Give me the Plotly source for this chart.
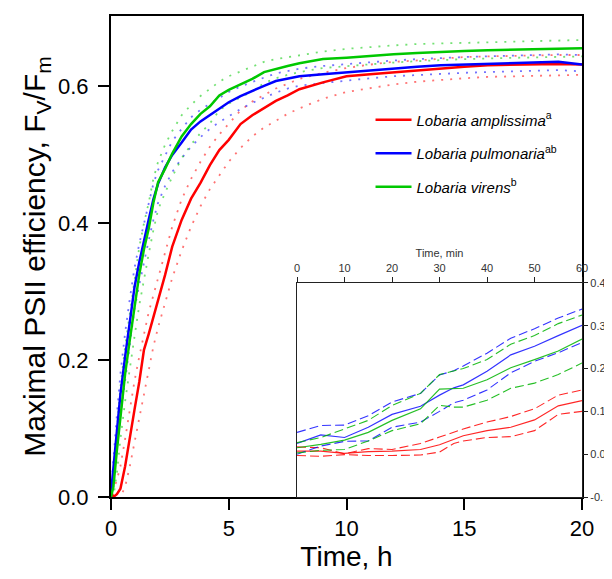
import plotly.graph_objects as go

# ---------------- main panel data (time in hours) ----------------
t_h = [0, 0.1, 0.25, 0.4, 0.6, 0.8, 1.0, 1.2, 1.4, 1.6, 1.8, 2.0, 2.3, 2.6, 3.0, 3.4, 3.8,
       4.2, 4.6, 5.0, 5.5, 6.0, 6.5, 7.0, 7.5, 8.0, 9, 10, 11, 12, 13, 14, 15, 16, 17, 18, 19, 20]

amp_mean = [0.008, 0.0, 0.004, 0.012, 0.045, 0.09, 0.128, 0.168, 0.215, 0.238, 0.262, 0.287, 0.325,
            0.366, 0.405, 0.436, 0.459, 0.485, 0.507, 0.522, 0.545, 0.558, 0.568, 0.579, 0.587,
            0.596, 0.606, 0.615, 0.618, 0.621, 0.624, 0.627, 0.629, 0.631, 0.632, 0.632, 0.633, 0.632]
amp_hi = [0.01, 0.01, 0.025, 0.045, 0.085, 0.13, 0.17, 0.205, 0.24, 0.27, 0.295, 0.32, 0.36, 0.395,
          0.435, 0.465, 0.49, 0.512, 0.53, 0.545, 0.565, 0.578, 0.588, 0.597, 0.604, 0.611, 0.62,
          0.627, 0.632, 0.636, 0.638, 0.641, 0.643, 0.644, 0.645, 0.646, 0.646, 0.646]
amp_lo = [0.0, -0.005, -0.005, 0.0, 0.015, 0.045, 0.08, 0.115, 0.155, 0.19, 0.22, 0.248, 0.285, 0.32,
          0.36, 0.395, 0.425, 0.45, 0.47, 0.49, 0.51, 0.527, 0.54, 0.55, 0.56, 0.568, 0.582, 0.592,
          0.598, 0.603, 0.607, 0.61, 0.612, 0.614, 0.615, 0.616, 0.617, 0.617]

pul_mean = [0.005, 0.04, 0.093, 0.15, 0.205, 0.26, 0.307, 0.343, 0.372, 0.405, 0.435, 0.458, 0.482,
            0.50, 0.518, 0.537, 0.549, 0.558, 0.568, 0.577, 0.586, 0.594, 0.601, 0.608, 0.612, 0.615,
            0.618, 0.621, 0.624, 0.626, 0.629, 0.631, 0.632, 0.632, 0.633, 0.634, 0.636, 0.632]
pul_hi = [0.01, 0.06, 0.12, 0.18, 0.24, 0.29, 0.335, 0.37, 0.40, 0.43, 0.458, 0.478, 0.50, 0.52,
          0.538, 0.555, 0.566, 0.575, 0.584, 0.592, 0.60, 0.607, 0.613, 0.619, 0.623, 0.626, 0.63,
          0.633, 0.636, 0.638, 0.64, 0.642, 0.643, 0.644, 0.645, 0.646, 0.647, 0.646]
pul_lo = [0.0, 0.015, 0.065, 0.12, 0.17, 0.225, 0.275, 0.31, 0.345, 0.375, 0.405, 0.43, 0.455, 0.475,
          0.495, 0.512, 0.526, 0.538, 0.548, 0.557, 0.567, 0.576, 0.584, 0.591, 0.597, 0.601, 0.605,
          0.609, 0.612, 0.615, 0.617, 0.619, 0.62, 0.621, 0.622, 0.623, 0.624, 0.622]

vir_mean = [0.0, 0.015, 0.068, 0.12, 0.18, 0.23, 0.278, 0.325, 0.362, 0.392, 0.43, 0.46, 0.48, 0.502,
            0.527, 0.545, 0.56, 0.571, 0.587, 0.595, 0.603, 0.611, 0.621, 0.626, 0.63, 0.634, 0.64,
            0.642, 0.645, 0.647, 0.649, 0.651, 0.652, 0.653, 0.654, 0.655, 0.655, 0.656]
vir_hi = [0.005, 0.035, 0.1, 0.16, 0.22, 0.27, 0.32, 0.365, 0.4, 0.43, 0.465, 0.49, 0.515, 0.535,
          0.558, 0.573, 0.586, 0.596, 0.607, 0.615, 0.622, 0.629, 0.636, 0.64, 0.643, 0.646, 0.651,
          0.655, 0.658, 0.66, 0.662, 0.663, 0.664, 0.665, 0.666, 0.667, 0.667, 0.668]
vir_lo = [0.0, 0.0, 0.035, 0.085, 0.14, 0.19, 0.235, 0.28, 0.32, 0.355, 0.39, 0.42, 0.445, 0.468,
          0.495, 0.515, 0.532, 0.546, 0.565, 0.575, 0.584, 0.593, 0.605, 0.612, 0.617, 0.621, 0.627,
          0.63, 0.633, 0.635, 0.637, 0.639, 0.64, 0.641, 0.642, 0.643, 0.643, 0.644]

# ---------------- inset data (time in minutes) ----------------
t_min = [0, 5, 10, 15, 20, 26, 30, 33, 35, 40, 45, 50, 55, 60]

in_amp_mean = [0.007, 0.007, 0.002, 0.006, 0.007, 0.011, 0.022, 0.035, 0.043, 0.055, 0.063, 0.08, 0.113, 0.125]
in_amp_hi = [0.017, 0.015, 0.001, 0.013, 0.011, 0.025, 0.04, 0.052, 0.059, 0.075, 0.088, 0.106, 0.138, 0.15]
in_amp_lo = [-0.003, -0.005, -0.001, -0.003, -0.003, -0.002, 0.005, 0.025, 0.031, 0.039, 0.041, 0.055, 0.093, 0.1]

in_pul_mean = [0.025, 0.045, 0.039, 0.063, 0.093, 0.112, 0.138, 0.155, 0.162, 0.194, 0.232, 0.252, 0.277, 0.301]
in_pul_hi = [0.051, 0.067, 0.068, 0.09, 0.122, 0.142, 0.185, 0.195, 0.206, 0.236, 0.271, 0.293, 0.318, 0.339]
in_pul_lo = [0.0, 0.019, 0.03, 0.031, 0.063, 0.075, 0.1, 0.12, 0.126, 0.15, 0.19, 0.217, 0.237, 0.261]

in_vir_mean = [0.015, 0.023, 0.033, 0.051, 0.079, 0.106, 0.152, 0.154, 0.154, 0.174, 0.202, 0.221, 0.241, 0.269]
in_vir_hi = [0.027, 0.039, 0.059, 0.079, 0.114, 0.142, 0.186, 0.194, 0.2, 0.221, 0.257, 0.277, 0.305, 0.325]
in_vir_lo = [0.003, 0.009, 0.011, 0.031, 0.055, 0.071, 0.114, 0.11, 0.11, 0.126, 0.154, 0.166, 0.186, 0.213]

inset_y_ticks = [-0.1, 0.0, 0.1, 0.2, 0.3, 0.4]
inset_y_labels = ["-0.1", "0.0", "0.1", "0.2", "0.3", "0.4"]
inset_x_ticks = [0, 10, 20, 30, 40, 50, 60]
main_x_ticks = [0, 5, 10, 15, 20]
main_y_ticks = [0, 0.2, 0.4, 0.6]

RED = "rgb(255,0,0)"
BLUE = "rgb(0,0,255)"
GREEN = "rgb(0,200,0)"
RED_L = "rgba(255,0,0,0.55)"
BLUE_L = "rgba(0,0,255,0.55)"
GREEN_L = "rgba(0,200,0,0.55)"

names = ["<i>Lobaria amplissima</i><sup>a</sup>",
         "<i>Lobaria pulmonaria</i><sup>ab</sup>",
         "<i>Lobaria virens</i><sup>b</sup>"]

fig = go.Figure()

series = [
    (amp_mean, amp_hi, amp_lo, RED, RED_L, names[0]),
    (pul_mean, pul_hi, pul_lo, BLUE, BLUE_L, names[1]),
    (vir_mean, vir_hi, vir_lo, GREEN, GREEN_L, names[2]),
]
# dotted confidence bands
for mean, hi, lo, c, cl, nm in series:
    for band in (hi, lo):
        fig.add_trace(go.Scatter(x=t_h, y=band, mode="lines", showlegend=False,
                                 line=dict(color=cl, width=1.8, dash="2px,7px"),
                                 xaxis="x", yaxis="y", hoverinfo="skip"))
for i, (mean, hi, lo, c, cl, nm) in enumerate(series):
    fig.add_trace(go.Scatter(x=t_h, y=mean, mode="lines", name=nm, legendgroup=str(i),
                             line=dict(color=c, width=2.5), xaxis="x", yaxis="y"))

inset = [
    (in_amp_mean, in_amp_hi, in_amp_lo, RED, "rgba(255,0,0,0.85)"),
    (in_pul_mean, in_pul_hi, in_pul_lo, BLUE, "rgba(0,0,255,0.8)"),
    (in_vir_mean, in_vir_hi, in_vir_lo, GREEN, "rgba(0,180,0,0.85)"),
]
for mean, hi, lo, c, cl in inset:
    for band in (hi, lo):
        fig.add_trace(go.Scatter(x=t_min, y=band, mode="lines", showlegend=False,
                                 line=dict(color=cl, width=1.1, dash="9px,4px"),
                                 xaxis="x2", yaxis="y2"))
    fig.add_trace(go.Scatter(x=t_min, y=mean, mode="lines", showlegend=False,
                             line=dict(color=cl, width=1.2), xaxis="x2", yaxis="y2"))

FONT = "Liberation Sans, Arial, sans-serif"

# the page puts the figure 8px in from the top-left corner; margins compensate
fig.update_layout(
    width=612, height=579,
    margin=dict(l=103, r=38, t=8, b=90),
    paper_bgcolor="white", plot_bgcolor="white",
    font=dict(family=FONT, color="black"),
    showlegend=True,
    legend=dict(x=0.551, y=0.818, xanchor="left", yanchor="top",
                bgcolor="rgba(0,0,0,0)", font=dict(size=15, family=FONT),
                tracegroupgap=11, itemwidth=36),
    xaxis=dict(domain=[0, 1], range=[0, 20], tickvals=main_x_ticks, automargin=False,
               showline=True, linecolor="black", linewidth=2, mirror=True,
               ticks="outside", ticklen=11, tickwidth=2, tickcolor="black",
               showgrid=False, zeroline=False, tickfont=dict(size=22),
               title=dict(text="Time, h", font=dict(size=28), standoff=6)),
    yaxis=dict(domain=[0, 1], range=[0, 0.703], tickvals=main_y_ticks, automargin=False,
               tickformat=".1f", showline=True, linecolor="black", linewidth=2,
               mirror=True, ticks="outside", ticklen=11, tickwidth=2, tickcolor="black",
               ticklabelstandoff=5,
               showgrid=False, zeroline=False, tickfont=dict(size=22),
               title=dict(text="Maximal PSII efficiency, F<sub>V</sub>/F<sub>m</sub>",
                          font=dict(size=30), standoff=4)),
    xaxis2=dict(domain=[0.395, 1], range=[0, 60], anchor="y2", side="top", automargin=False,
                tickvals=inset_x_ticks, showline=True, linecolor="#222",
                linewidth=1.2, mirror=True, ticks="outside", ticklen=5, tickwidth=1,
                tickcolor="#222", showgrid=False, zeroline=False,
                tickfont=dict(size=11, color="#333"),
                title=dict(text="Time, min", font=dict(size=11, color="#333"), standoff=2)),
    yaxis2=dict(domain=[0, 0.445], range=[-0.1, 0.4], anchor="x2", side="right", automargin=False,
                tickvals=inset_y_ticks, ticktext=inset_y_labels,
                showline=True, linecolor="#222", linewidth=1.2, mirror=True,
                ticks="outside", ticklen=5, tickwidth=1, tickcolor="#222",
                showgrid=False, zeroline=False, tickfont=dict(size=11, color="#333")),
)

fig.write_html("out.html")
